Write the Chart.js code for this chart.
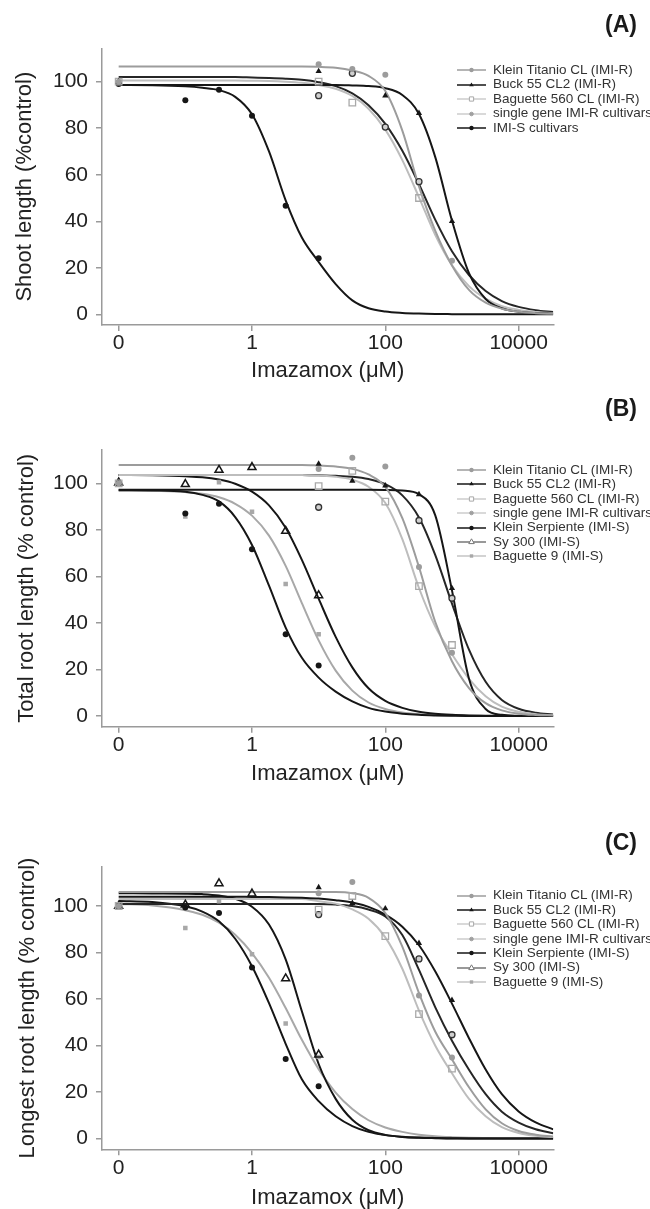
<!DOCTYPE html>
<html>
<head>
<meta charset="utf-8">
<script src="https://cdn.jsdelivr.net/npm/chart.js@4.4.1/dist/chart.umd.min.js"></script>
<style>
  body { margin: 0; background: #fff; font-family: "Liberation Sans", Arial, sans-serif; }
  #page { position: relative; width: 650px; height: 1209px; overflow: hidden; }
  .panel { position: absolute; left: 0; width: 650px; }
  .tag { position: absolute; right: 13px; font-weight: bold; font-size: 23px; line-height: 23px; color: #1a1a1a; }
  .legend { position: absolute; left: 456px; font-size: 13.5px; color: #333; }
  .legend .row { position: relative; white-space: nowrap; }
  .legend canvas { position: absolute; left: 0; top: 0; }
  .legend span { position: absolute; left: 37px; top: 0; }
</style>
</head>
<body>
<div id="page">
  <canvas id="chartA" class="panel" width="650" height="392" style="top:0px"></canvas>
  <canvas id="chartB" class="panel" width="650" height="400" style="top:392px"></canvas>
  <canvas id="chartC" class="panel" width="650" height="417" style="top:792px"></canvas>
  <div class="tag" style="top:13px">(A)</div>
  <div class="tag" style="top:397px">(B)</div>
  <div class="tag" style="top:831px">(C)</div>
  <div id="legendA" class="legend"></div>
  <div id="legendB" class="legend"></div>
  <div id="legendC" class="legend"></div>
</div>
<script>
// --- axis ticks ---
const xTickVals = [0.01, 1, 100, 10000];
const xTickLabels = ['0', '1', '100', '10000'];
const yTickVals = [0, 20, 40, 60, 80, 100];

// doses (the "0" control sits at 0.01 on the log axis)
const doseR = [0.01, 10, 32, 100, 320, 1000];
const doseS = [0.01, 0.1, 0.32, 1, 3.2, 10];

// dose grid the fitted curves were read at
const doseGrid = [0.01, 0.032, 0.1, 0.18, 0.32, 0.56, 1, 1.8, 3.2, 5.6, 10, 18, 32, 56,
  100, 180, 320, 560, 1000, 1800, 3200, 5600, 10000, 18000, 33000];

// --- (A) shoot length ---
const aTitanioObs = [100, 107.5, 105.5, 103, null, 23];
const aBuckObs = [100, 104.5, null, 94, 86.5, 40];
const aBag560Obs = [100, 100, 91, null, 50, null];
const aSingleObs = [null, 94, 103.6, 80.5, 57, null];
const aImiSObs = [99, 92, 96.5, 85.4, 46.7, 24.1];

const aTitanioFit = [106.5, 106.5, 106.5, 106.5, 106.5, 106.5, 106.5, 106.5, 106.5, 106.5, 106.4, 106, 104.8,
  102.5, 96, 79, 55, 36, 21, 10.5, 5, 2.4, 1.1, 0.5, 0.2];
const aBuckFit = [98.6, 98.6, 98.6, 98.6, 98.6, 98.6, 98.6, 98.6, 98.6, 98.6, 98.6, 98.6, 98.4,
  98.1, 97.2, 94.3, 86.1, 67.7, 40.3, 17.7, 6.6, 2.6, 1.1, 0.5, 0.25];
const aBag560Fit = [100.5, 100.5, 100.5, 100.5, 100.5, 100.5, 100.4, 100.3, 100, 99.5, 98.6, 97, 93.9,
  88.4, 79.4, 66.3, 50.3, 34.2, 21.1, 12.1, 6.7, 3.5, 1.9, 1, 0.5];
const aSingleFit = [102, 102, 102, 102, 102, 102, 101.8, 101.6, 101.3, 100.8, 99.8, 98.1, 95,
  89.9, 81.9, 70.3, 55.9, 40.7, 27.1, 16.9, 10, 5.7, 3.2, 1.8, 0.95];
const aImiSFit = [98.6, 98.5, 98, 97.4, 96.4, 93.5, 86, 70, 49, 33, 22.5, 13, 6,
  2.6, 1.2, 0.6, 0.3, 0.15, 0.07, 0, 0, 0, 0, 0, 0];

// --- (B) total root length ---
const bTitanioObs = [100, 106.1, 111, 107.2, 64, 27.2];
const bBuckObs = [100, 108.3, 101, 99, 95.2, 54.9];
const bBag560Obs = [100, 98.8, 105.3, 92.1, 55.8, 30.5];
const bSingleObs = [null, 89.7, null, null, 84, 50.6];
const bSerpObs = [100, 87, 91.2, 71.6, 35.1, 21.7];
const bSyObs = [100.3, 99.6, 105.7, 106.9, 79.5, 51.8];
const bBag9Obs = [100, 85.7, 100.5, 87.8, 56.7, 35.1];

const bTitanioFit = [107.9, 107.9, 107.9, 107.9, 107.9, 107.9, 107.9, 107.9, 107.9, 107.9, 107.6, 107.2, 106.2,
  103.8, 98.5, 85, 64, 40.5, 23.5, 12, 5.5, 2.4, 1, 0.45, 0.2];
const bBuckFit = [97.2, 97.2, 97.2, 97.2, 97.2, 97.2, 97.2, 97.2, 97.2, 97.2, 97.2, 97.2, 97.2,
  97.2, 97.15, 96.9, 95.3, 86.3, 54, 16, 3, 0.5, 0.08, 0, 0];
const bBag560Fit = [103.6, 103.6, 103.6, 103.6, 103.6, 103.6, 103.6, 103.6, 103.6, 103.6, 103.3, 102.8, 101.5,
  98.5, 91.5, 76, 55, 38.5, 26.5, 16, 8.5, 4, 1.8, 0.8, 0.35];
const bSingleFit = [103.6, 103.6, 103.6, 103.6, 103.6, 103.6, 103.6, 103.6, 103.6, 103.6, 103.4, 103.2, 102.8,
  101.8, 99.6, 94.8, 85.3, 69.2, 48.3, 28.5, 14.7, 6.9, 3.1, 1.4, 0.6];
const bSerpFit = [97, 96.9, 96.4, 95, 92.2, 85.5, 73.5, 56, 38, 25, 16.5, 10.5, 6.3,
  3.5, 1.9, 1, 0.5, 0.25, 0.1, 0, 0, 0, 0, 0, 0];
const bSyFit = [103.6, 103.4, 103, 102.6, 101.6, 99.8, 96.4, 90.5, 80.9, 67.1, 50.4, 34, 20.9,
  11.9, 6.5, 3.5, 1.8, 0.95, 0.5, 0.25, 0.13, 0.07, 0, 0, 0];
const bBag9Fit = [96.9, 96.8, 96.2, 95.5, 94, 91.2, 86.1, 77.5, 64.5, 48.5, 32.5, 19.5, 10.9,
  5.8, 3, 1.5, 0.78, 0.39, 0.2, 0.1, 0.05, 0, 0, 0, 0];

// --- (C) longest root length ---
const cTitanioObs = [100, 105.5, 110.3, null, 61.5, 34.8];
const cBuckObs = [100, 108, 101.2, 98.9, 84, 59.5];
const cBag560Obs = [100, 98.4, 104.3, 87, 53.5, 30];
const cSingleObs = [null, 96.3, null, null, 77.2, 44.6];
const cSerpObs = [100, 99.3, 97, 73.5, 34.2, 22.4];
const cSyObs = [100, 100.5, 109.7, 105.3, 68.8, 36];
const cBag9Obs = [100, 90.5, 102, 79.2, 49.4, 35];

const cTitanioFit = [106, 106, 106, 106, 106, 106, 106, 106, 106, 106, 106, 106, 105.5,
  103.5, 97, 82.5, 62.5, 46, 34, 22, 12.5, 6.5, 3.2, 1.6, 0.8];
const cBuckFit = [104, 104, 104, 104, 104, 104, 103.9, 103.85, 103.7, 103.5, 103.2, 102.5, 101.5,
  99.6, 96.3, 91.1, 83.1, 71.9, 58, 43.1, 29.6, 19, 11.6, 6.9, 3.9];
const cBag560Fit = [103, 103, 103, 103, 103, 103, 103, 103, 103, 103, 102, 101, 98.5,
  94.5, 86.5, 73, 55, 40, 28, 17, 9.5, 4.8, 2.3, 1.1, 0.55];
const cSingleFit = [100.8, 100.8, 100.8, 100.8, 100.8, 100.8, 100.8, 100.8, 100.8, 100.8, 100.8, 100.6, 100,
  98.5, 95.5, 87.5, 72.5, 56.5, 42, 29.5, 19, 11.5, 6.8, 3.9, 2.2];
const cSerpFit = [102.15, 101.7, 99.9, 97.6, 93.4, 85.9, 74.1, 58.2, 40.7, 25.4, 16, 9.5, 5.3,
  2.8, 1.4, 0.7, 0.35, 0.17, 0.08, 0, 0, 0, 0, 0, 0];
const cSyFit = [105.5, 105.4, 105.3, 105.1, 104.5, 103.1, 99.7, 92, 77, 54.7, 32, 17, 8,
  3.5, 1.5, 0.6, 0.25, 0.1, 0, 0, 0, 0, 0, 0, 0];
const cBag9Fit = [100.9, 100.2, 98.2, 96.2, 92.8, 87.6, 79.7, 69.1, 56.1, 42.4, 29.8, 19.7, 12.6,
  7.8, 4.7, 2.8, 1.6, 0.91, 0.53, 0.3, 0.18, 0.1, 0.06, 0.03, 0.02];

// --- look of each series ---
const FONT = '"Liberation Sans", Arial, sans-serif';
const styles = {
  titanio: { line: '#9c9c9c', point: 'circle', r: 3, fill: '#9c9c9c', stroke: '#9c9c9c', bw: 0, legLine: '#9c9c9c', legR: 2.2 },
  buck: { line: '#161616', point: 'triangle', r: 3.6, fill: '#161616', stroke: '#161616', bw: 0, legLine: '#161616', legR: 2.6 },
  bag560: { line: '#bdbdbd', point: 'rect', r: 4.6, fill: 'rgba(255,255,255,0)', stroke: '#a9a9a9', bw: 1.3, legLine: '#cccccc', legR: 3 },
  single: { line: '#262626', point: 'circle', r: 3, fill: '#d0d0d0', stroke: '#333333', bw: 1.3, legLine: '#cccccc', legFill: '#a0a0a0', legStroke: '#a0a0a0', legR: 1.8 },
  imis: { line: '#161616', point: 'circle', r: 3, fill: '#161616', stroke: '#161616', bw: 0, legLine: '#161616', legR: 2.2 },
  sy: { line: '#161616', point: 'triangle', r: 4.6, fill: 'rgba(255,255,255,0)', stroke: '#161616', bw: 1.5, legLine: '#777777', legStroke: '#777777', legR: 3.2 },
  bag9: { line: '#a8a8a8', point: 'rect', r: 3.2, fill: '#a8a8a8', stroke: '#a8a8a8', bw: 0, legLine: '#c4c4c4', legR: 2.4 }
};

const panels = [
  {
    canvas: 'chartA', legend: 'legendA', top: 0, h: 392, plotTop: 48.3, plotBottom: 325,
    yMin: -4.6, yMax: 114.36, yTitle: 'Shoot length (%control)', yTitlePad: 12, xTitlePad: 7.8,
    legendTop: 70, legendStep: 14.5,
    series: [
      { key: 'titanio', label: 'Klein Titanio CL (IMI-R)', dose: doseR, obs: aTitanioObs, fit: aTitanioFit },
      { key: 'buck', label: 'Buck 55 CL2 (IMI-R)', dose: doseR, obs: aBuckObs, fit: aBuckFit },
      { key: 'bag560', label: 'Baguette 560 CL (IMI-R)', dose: doseR, obs: aBag560Obs, fit: aBag560Fit },
      { key: 'single', label: 'single gene IMI-R cultivars', dose: doseR, obs: aSingleObs, fit: aSingleFit },
      { key: 'imis', label: 'IMI-S cultivars', dose: doseS, obs: aImiSObs, fit: aImiSFit }
    ]
  },
  {
    canvas: 'chartB', legend: 'legendB', top: 392, h: 400, plotTop: 58, plotBottom: 334.7,
    yMin: -4.6, yMax: 114.3, yTitle: 'Total root length (% control)', yTitlePad: 14, xTitlePad: 4.8,
    legendTop: 470, legendStep: 14.4,
    series: [
      { key: 'titanio', label: 'Klein Titanio CL (IMI-R)', dose: doseR, obs: bTitanioObs, fit: bTitanioFit },
      { key: 'buck', label: 'Buck 55 CL2 (IMI-R)', dose: doseR, obs: bBuckObs, fit: bBuckFit },
      { key: 'bag560', label: 'Baguette 560 CL (IMI-R)', dose: doseR, obs: bBag560Obs, fit: bBag560Fit },
      { key: 'single', label: 'single gene IMI-R cultivars', dose: doseR, obs: bSingleObs, fit: bSingleFit },
      { key: 'imis', label: 'Klein Serpiente (IMI-S)', dose: doseS, obs: bSerpObs, fit: bSerpFit },
      { key: 'sy', label: 'Sy 300 (IMI-S)', dose: doseS, obs: bSyObs, fit: bSyFit },
      { key: 'bag9', label: 'Baguette 9 (IMI-S)', dose: doseS, obs: bBag9Obs, fit: bBag9Fit }
    ]
  },
  {
    canvas: 'chartC', legend: 'legendC', top: 792, h: 417, plotTop: 74.7, plotBottom: 357.3,
    yMin: -4.7, yMax: 116.9, yTitle: 'Longest root length (% control)', yTitlePad: 15, xTitlePad: -2.2,
    legendTop: 895.6, legendStep: 14.4,
    series: [
      { key: 'titanio', label: 'Klein Titanio CL (IMI-R)', dose: doseR, obs: cTitanioObs, fit: cTitanioFit },
      { key: 'buck', label: 'Buck 55 CL2 (IMI-R)', dose: doseR, obs: cBuckObs, fit: cBuckFit },
      { key: 'bag560', label: 'Baguette 560 CL (IMI-R)', dose: doseR, obs: cBag560Obs, fit: cBag560Fit },
      { key: 'single', label: 'single gene IMI-R cultivars', dose: doseR, obs: cSingleObs, fit: cSingleFit },
      { key: 'imis', label: 'Klein Serpiente (IMI-S)', dose: doseS, obs: cSerpObs, fit: cSerpFit },
      { key: 'sy', label: 'Sy 300 (IMI-S)', dose: doseS, obs: cSyObs, fit: cSyFit },
      { key: 'bag9', label: 'Baguette 9 (IMI-S)', dose: doseS, obs: cBag9Obs, fit: cBag9Fit }
    ]
  }
];

const axisGray = '#9a9a9a';
const textDark = '#222';

function buildLegend(p) {
  const box = document.getElementById(p.legend);
  box.style.top = (p.legendTop - p.legendStep / 2) + 'px';
  p.series.forEach(s => {
    const st = styles[s.key];
    const row = document.createElement('div');
    row.className = 'row';
    row.style.height = p.legendStep + 'px';
    row.style.lineHeight = p.legendStep + 'px';
    const cv = document.createElement('canvas');
    cv.width = 31;
    cv.height = 14;
    cv.style.top = ((p.legendStep - 14) / 2) + 'px';
    const c = cv.getContext('2d');
    c.strokeStyle = st.legLine;
    c.lineWidth = 1.5;
    c.beginPath();
    c.moveTo(1, 7);
    c.lineTo(30, 7);
    c.stroke();
    c.fillStyle = st.legFill || (st.bw ? '#ffffff' : st.fill);
    c.strokeStyle = st.legStroke || st.stroke;
    c.lineWidth = st.bw ? 1 : 0;
    Chart.helpers.drawPoint(c, { pointStyle: st.point, radius: st.legR, rotation: 0, borderWidth: st.bw ? 1 : 0 }, 15.5, 7);
    const span = document.createElement('span');
    span.textContent = s.label;
    row.appendChild(cv);
    row.appendChild(span);
    box.appendChild(row);
  });
}

function buildPanel(p) {
  const datasets = [];
  p.series.forEach(s => {
    const st = styles[s.key];
    datasets.push({
      label: s.label,
      order: 0,
      data: s.dose.map((d, i) => ({ x: d, y: s.obs[i] })),
      showLine: false,
      pointStyle: st.point,
      pointRadius: st.r,
      pointBackgroundColor: st.fill,
      pointBorderColor: st.stroke,
      pointBorderWidth: st.bw
    });
    datasets.push({
      label: s.label + ' (fit)',
      order: 1,
      data: doseGrid.map((d, i) => ({ x: d, y: s.fit[i] })),
      showLine: true,
      pointRadius: 0,
      borderColor: st.line,
      borderWidth: 2,
      cubicInterpolationMode: 'monotone',
      fill: false
    });
  });

  const tickGrid = { display: true, drawOnChartArea: false, drawTicks: true, tickLength: 6, color: axisGray, lineWidth: 1.5 };
  const axisBorder = { display: true, color: axisGray, width: 1.5 };

  new Chart(document.getElementById(p.canvas), {
    type: 'scatter',
    data: { datasets },
    options: {
      responsive: false,
      animation: false,
      events: [],
      layout: { padding: { left: 0, right: 96.7, top: p.plotTop, bottom: 0 } },
      plugins: { legend: { display: false }, tooltip: { enabled: false } },
      scales: {
        x: {
          type: 'logarithmic',
          min: Math.pow(10, -2.25),
          max: Math.pow(10, 4.52),
          afterBuildTicks: sc => { sc.ticks = xTickVals.map(v => ({ value: v })); },
          afterFit: sc => { sc.height = p.h - p.plotBottom; },
          ticks: {
            callback: v => xTickLabels[xTickVals.indexOf(v)],
            font: { size: 21, family: FONT }, color: textDark, padding: 0,
            maxRotation: 0, autoSkip: false
          },
          grid: tickGrid,
          border: axisBorder,
          title: {
            display: true, text: 'Imazamox (μM)', color: textDark,
            font: { size: 22, family: FONT }, padding: { top: 0, bottom: p.xTitlePad }
          }
        },
        y: {
          type: 'linear',
          min: p.yMin,
          max: p.yMax,
          afterBuildTicks: sc => { sc.ticks = yTickVals.map(v => ({ value: v })); },
          afterFit: sc => { sc.width = 102; },
          ticks: { font: { size: 21, family: FONT }, color: textDark, padding: 8 },
          grid: tickGrid,
          border: axisBorder,
          title: {
            display: true, text: p.yTitle, color: textDark,
            font: { size: 22, family: FONT }, padding: { top: p.yTitlePad, bottom: 0 }
          }
        }
      }
    }
  });
}

panels.forEach(p => {
  buildPanel(p);
  buildLegend(p);
});
</script>
</body>
</html>
